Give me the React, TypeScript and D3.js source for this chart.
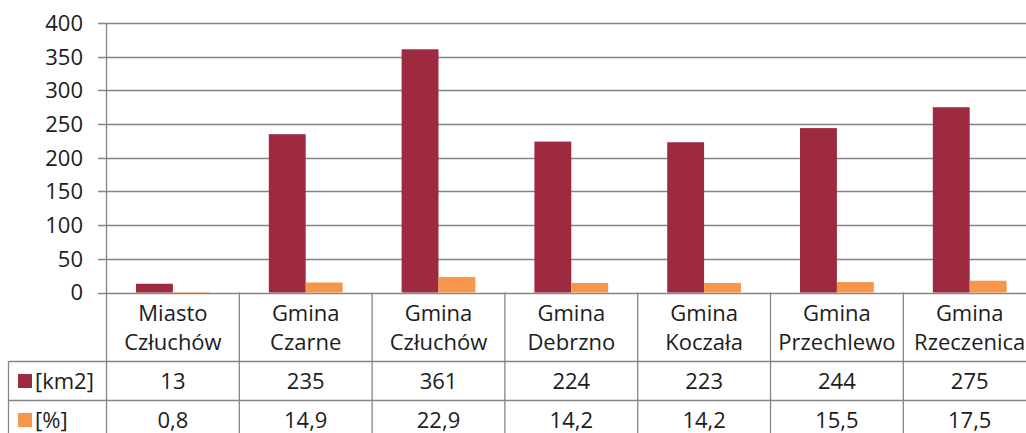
import React, { useEffect, useRef } from 'react';
import * as d3 from 'd3';

// chart data
const categories = [
  'Miasto\nCzłuchów',
  'Gmina\nCzarne',
  'Gmina\nCzłuchów',
  'Gmina\nDebrzno',
  'Gmina\nKoczała',
  'Gmina\nPrzechlewo',
  'Gmina\nRzeczenica',
];
const areaKm2 = [13, 235, 361, 224, 223, 244, 275];
const sharePct = [0.8, 14.9, 22.9, 14.2, 14.2, 15.5, 17.5];
const seriesNames = ['[km2]', '[%]'];
const seriesColors = ['#9d2a3e', '#f7964a'];
const yTicks = [0, 50, 100, 150, 200, 250, 300, 350, 400];

const W = 1026;
const H = 433;

function App() {
  const ref = useRef<SVGSVGElement>(null);

  useEffect(() => {
    drawChart();
  }, []);

  function drawChart() {
    const svg = d3.select(ref.current);
    svg.selectAll('*').remove();

    const font = "'Open Sans', sans-serif";
    const fs = 22;
    const lineCol = '#858585';
    const textCol = '#1c1c1c';

    const left = 106.5;
    const step = 132.8;
    const x = d3
      .scaleBand<string>()
      .domain(categories)
      .range([left, left + step * categories.length])
      .padding(0);
    const xSub = d3
      .scaleBand<number>()
      .domain([0, 1])
      .range([0, x.bandwidth()])
      .paddingInner(0)
      .paddingOuter(0.8);
    const y = d3.scaleLinear().domain([0, 400]).range([292.5, 23]);

    const row1 = 361.5;
    const row2 = 400.5;
    const row3 = 439.5;
    const tableLeft = 8.5;
    const right = left + step * categories.length;

    // grid lines
    svg
      .append('g')
      .selectAll('line')
      .data(yTicks)
      .enter()
      .append('line')
      .attr('x1', 98)
      .attr('x2', right)
      .attr('y1', d => Math.round(y(d)) + 0.5)
      .attr('y2', d => Math.round(y(d)) + 0.5)
      .attr('stroke', lineCol)
      .attr('stroke-width', 1.3);

    // y labels
    svg
      .append('g')
      .selectAll('text')
      .data(yTicks)
      .enter()
      .append('text')
      .attr('x', 83)
      .attr('y', d => y(d))
      .attr('dy', '0.36em')
      .attr('text-anchor', 'end')
      .attr('font-family', font)
      .attr('font-size', fs)
      .attr('fill', textCol)
      .text(d => d);

    // bars
    const series = [areaKm2, sharePct];
    series.forEach((vals, si) => {
      svg
        .append('g')
        .selectAll('rect')
        .data(vals)
        .enter()
        .append('rect')
        .attr('x', (d, i) => (x(categories[i]) as number) + (xSub(si) as number))
        .attr('width', xSub.bandwidth())
        .attr('y', d => y(d))
        .attr('height', d => y(0) - y(d))
        .attr('fill', seriesColors[si]);
    });

    // y axis line (runs down through the table)
    svg
      .append('line')
      .attr('x1', left)
      .attr('x2', left)
      .attr('y1', y(400))
      .attr('y2', H + 10)
      .attr('stroke', lineCol)
      .attr('stroke-width', 1.3);

    // table vertical separators
    svg
      .append('g')
      .selectAll('line')
      .data(categories.slice(1).concat(['__end']))
      .enter()
      .append('line')
      .attr('x1', d => (d === '__end' ? right : (x(d) as number)))
      .attr('x2', d => (d === '__end' ? right : (x(d) as number)))
      .attr('y1', y(0))
      .attr('y2', H + 10)
      .attr('stroke', lineCol)
      .attr('stroke-width', 1.3);

    // table horizontal lines
    [row1, row2, row3].forEach(ry => {
      svg
        .append('line')
        .attr('x1', tableLeft)
        .attr('x2', right)
        .attr('y1', ry)
        .attr('y2', ry)
        .attr('stroke', lineCol)
        .attr('stroke-width', 1.3);
    });
    svg
      .append('line')
      .attr('x1', tableLeft)
      .attr('x2', tableLeft)
      .attr('y1', row1)
      .attr('y2', H + 10)
      .attr('stroke', lineCol)
      .attr('stroke-width', 1.3);

    // category labels (two lines)
    const cat = svg
      .append('g')
      .selectAll('text')
      .data(categories)
      .enter()
      .append('text')
      .attr('text-anchor', 'middle')
      .attr('font-family', font)
      .attr('font-size', fs)
      .attr('fill', textCol);
    cat
      .selectAll('tspan')
      .data(d => d.split('\n').map(t => ({ t, c: d })))
      .enter()
      .append('tspan')
      .attr('x', d => (x(d.c) as number) + x.bandwidth() / 2)
      .attr('y', (d, i) => 313 + i * 29)
      .attr('dy', '0.36em')
      .text(d => d.t);

    // value rows
    const rows = [
      areaKm2.map(v => String(v)),
      sharePct.map(v => v.toFixed(1).replace('.', ',')),
    ];
    const rowMid = [(row1 + row2) / 2, (row2 + row3) / 2];
    rows.forEach((labels, ri) => {
      svg
        .append('g')
        .selectAll('text')
        .data(labels)
        .enter()
        .append('text')
        .attr('x', (d, i) => (x(categories[i]) as number) + x.bandwidth() / 2)
        .attr('y', rowMid[ri])
        .attr('dy', '0.36em')
        .attr('text-anchor', 'middle')
        .attr('font-family', font)
        .attr('font-size', fs)
        .attr('fill', textCol)
        .text(d => d);

      // legend key
      svg
        .append('rect')
        .attr('x', 18)
        .attr('y', rowMid[ri] - 7)
        .attr('width', 14)
        .attr('height', 14)
        .attr('fill', seriesColors[ri]);
      svg
        .append('text')
        .attr('x', 35)
        .attr('y', rowMid[ri])
        .attr('dy', '0.36em')
        .attr('font-family', font)
        .attr('font-size', fs)
        .attr('fill', textCol)
        .text(seriesNames[ri]);
    });
  }

  return (
    <svg
      ref={ref}
      width={W}
      height={H}
      style={{ position: 'absolute', top: 0, left: 0, background: '#fff' }}
    />
  );
}

export default App;
